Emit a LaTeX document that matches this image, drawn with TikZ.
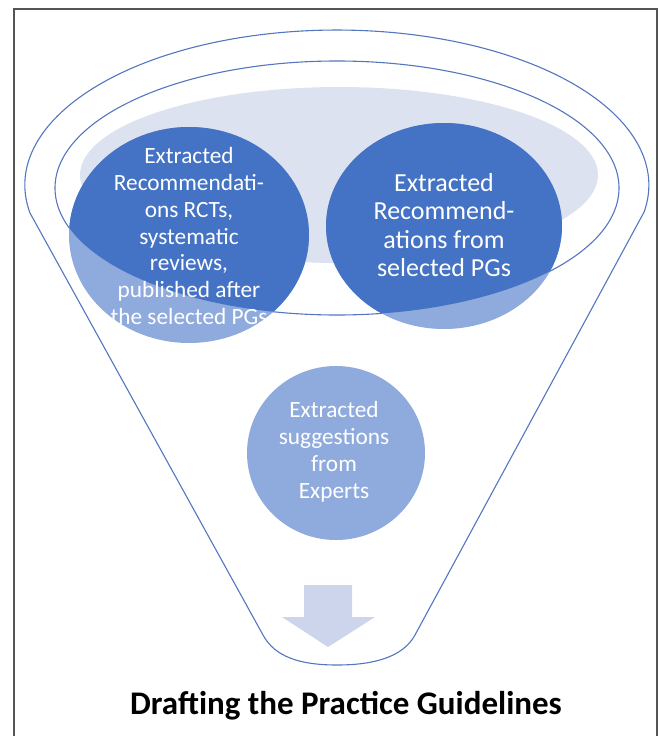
\documentclass[tikz,border=0pt]{standalone}
\usepackage{fontspec}
\setmainfont{Carlito}
\usetikzlibrary{shapes.geometric}
\definecolor{rimblue}{RGB}{84,118,190}
\definecolor{deepblue}{RGB}{68,114,196}
\definecolor{softblue}{RGB}{143,170,220}
\definecolor{mouthgray}{RGB}{220,226,240}
\definecolor{arrowgray}{RGB}{204,213,235}
\definecolor{framegray}{RGB}{85,85,85}

\begin{document}
\begin{tikzpicture}[x=1pt,y=1pt,
  rim/.style={draw=rimblue, line width=1.1pt},
  blobtext/.style={text=white, align=center, inner sep=0pt},
]
\useasboundingbox (0,0) rectangle (660,-736);

% page frame
\draw[framegray, line width=1.4pt] (14,-740) -- (14,-9) -- (657,-9) -- (657,-740);

% pale mouth of the funnel
\fill[mouthgray] (339,-175) ellipse [x radius=259pt, y radius=88pt];

% funnel outline: top rim, sloping sides, rounded spout
\draw[rim, line join=round] (30,-213)
  arc[start angle=190.4, end angle=-10, x radius=312pt, y radius=155pt]
  -- (415,-635) .. controls (403,-657) and (374,-665) .. (337,-665)
  .. controls (300,-665) and (275,-657) .. (263,-635) -- cycle;

% inner rim
\draw[rim] (337,-188) ellipse [x radius=282pt, y radius=127pt];

% the two upper discs: light below the rim, deep blue inside it
\fill[softblue] (189,-235) ellipse [x radius=120pt, y radius=108pt];
\fill[softblue] (444,-226) ellipse [x radius=118pt, y radius=103pt];
\begin{scope}
  \clip (337,-188) ellipse [x radius=282pt, y radius=127pt];
  \fill[deepblue] (189,-235) ellipse [x radius=120pt, y radius=108pt];
  \fill[deepblue] (444,-226) ellipse [x radius=118pt, y radius=103pt];
\end{scope}

% lower disc
\fill[softblue] (336,-453) ellipse [x radius=89pt, y radius=87pt];

% labels of the discs
\node[blobtext, font=\fontsize{23.3}{26.7}\selectfont] (recs) at (189,-236)
  {Extracted\\Recommendati-\\ons RCTs,\\systematic\\reviews,\\published after\\the selected PGs};
\node[blobtext, font=\fontsize{26}{28.2}\selectfont] (pgrecs) at (444,-225)
  {Extracted\\Recommend-\\ations from\\selected PGs};
\node[blobtext, font=\fontsize{23.3}{27}\selectfont] (experts) at (334,-452)
  {Extracted\\suggestions\\from\\Experts};

% downward arrow in the spout
\fill[arrowgray] (304,-585) -- (352,-585) -- (352,-617) -- (375,-617)
  -- (328,-647) -- (282,-617) -- (304,-617) -- cycle;

% caption
\node[font=\fontsize{33}{38}\selectfont\bfseries, inner sep=0pt] (title) at (346,-706)
  {Drafting the Practice Guidelines};
\end{tikzpicture}
\end{document}
